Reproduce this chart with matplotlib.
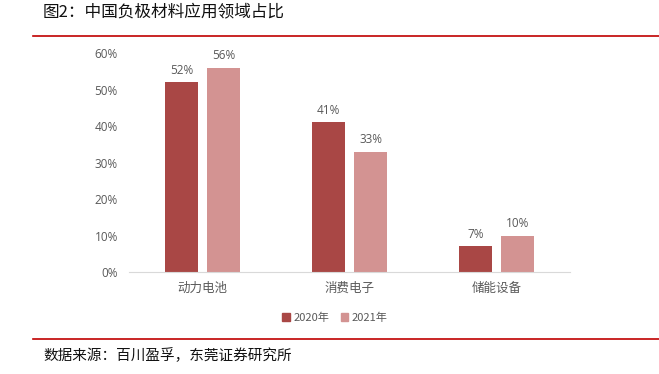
import matplotlib.pyplot as plt
from matplotlib.patches import Patch
import numpy as np

categorias = ['动力电池', '消费电子', '储能设备']
valores_2020 = [0.52, 0.41, 0.07]
valores_2021 = [0.56, 0.33, 0.10]
rotulos_2020 = ['52%', '41%', '7%']
rotulos_2021 = ['56%', '33%', '10%']
series = ['2020年', '2021年']

plt.rcParams['font.family'] = ['Noto Sans CJK SC', 'DejaVu Sans']

cor_escura = '#A94745'
cor_clara = '#D39392'
cinza = '#595959'

fig = plt.figure(figsize=(6.59, 3.74), dpi=100)
ax = fig.add_axes([129 / 659, 1 - 272 / 374, 441 / 659, 219 / 374])

x = np.arange(len(categorias))
largura = 0.225
desloc = 0.143

b1 = ax.bar(x - desloc, valores_2020, largura, color=cor_escura)
b2 = ax.bar(x + desloc, valores_2021, largura, color=cor_clara)

# rótulos acima das barras
for barras, rotulos in ((b1, rotulos_2020), (b2, rotulos_2021)):
    for barra, texto in zip(barras, rotulos):
        ax.annotate(texto, (barra.get_x() + barra.get_width() / 2, barra.get_height()),
                    xytext=(0, 4), textcoords='offset points', ha='center', va='bottom',
                    fontsize=8.5, color=cinza, family=['Open Sans', 'DejaVu Sans'])

ax.set_xlim(-0.5, 2.5)
ax.set_ylim(0, 0.6)
ax.set_yticks(np.arange(0, 0.61, 0.1))
ax.set_yticklabels(['{:.0f}%'.format(v * 100) for v in np.arange(0, 0.61, 0.1)],
                   fontsize=8.5, color=cinza, family=['Open Sans', 'DejaVu Sans'])
ax.set_xticks(x)
ax.set_xticklabels(categorias, fontsize=9, color=cinza)

for lado in ('top', 'right', 'left'):
    ax.spines[lado].set_visible(False)
ax.spines['bottom'].set_color('#D9D9D9')
ax.tick_params(axis='both', length=0)
ax.tick_params(axis='y', pad=8)
ax.tick_params(axis='x', pad=7)

# legenda
alcas = [Patch(color=cor_escura), Patch(color=cor_clara)]
fig.legend(alcas, series, loc='center', bbox_to_anchor=(335 / 659, 1 - 318 / 374),
           ncol=2, frameon=False, fontsize=8, handlelength=0.7, handleheight=0.7,
           handletextpad=0.3, columnspacing=1.0, labelcolor=cinza)

# título, linhas vermelhas e fonte
fig.text(43 / 659, 1 - 12 / 374, '图2：中国负极材料应用领域占比', fontsize=12,
         va='center', ha='left', color='#111111')
fig.add_artist(plt.Line2D([33 / 659, 1], [1 - 36 / 374] * 2, color='#C00000', lw=1.2))
fig.add_artist(plt.Line2D([33 / 659, 1], [1 - 339 / 374] * 2, color='#C00000', lw=1.2))
fig.text(43 / 659, 1 - 356 / 374, '数据来源：百川盈孚，东莞证券研究所', fontsize=10.5,
         va='center', ha='left', color='#111111')

plt.savefig('out.png', dpi=100)
